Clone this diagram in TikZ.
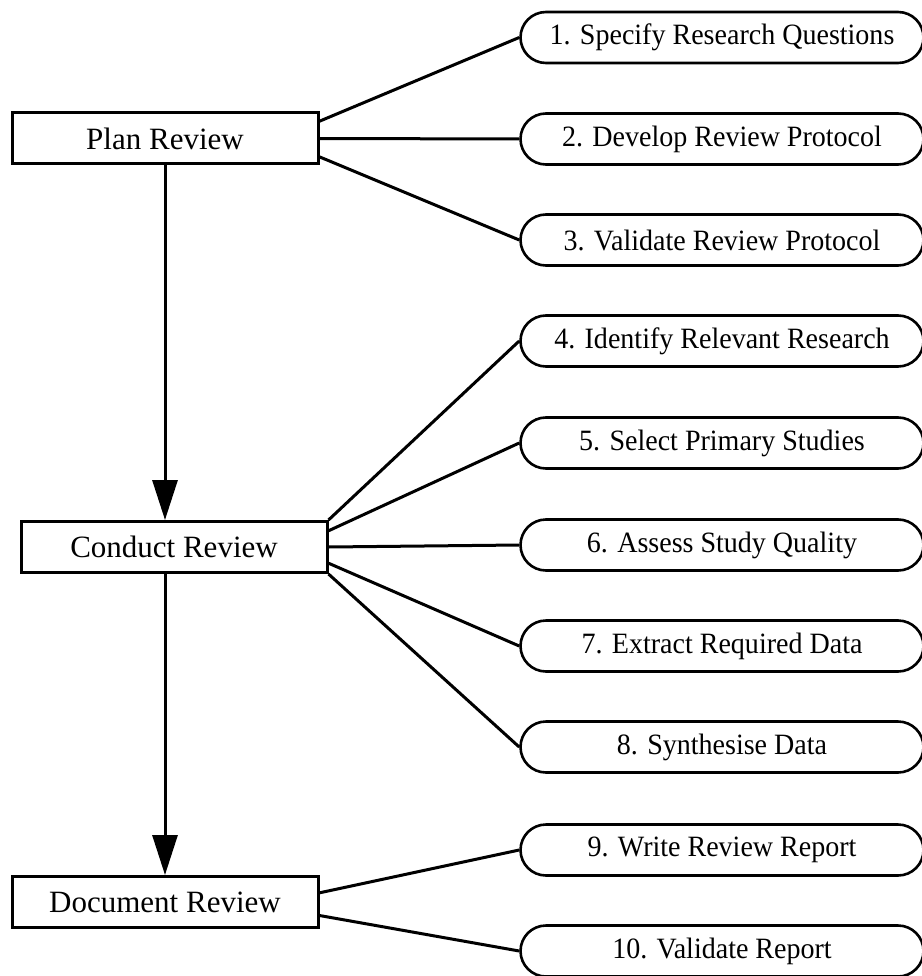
\documentclass[tikz,border=0pt]{standalone}
\usepackage{fontspec}
\setmainfont{Liberation Serif}
\newfontfamily\ovalfont[FakeStretch=0.95]{Liberation Serif}
\usetikzlibrary{shapes.misc,arrows.meta,calc}
\begin{document}
\begin{tikzpicture}[x=1pt,y=-1pt,
  boxnode/.style={draw,line width=3pt,minimum width=306pt,minimum height=51pt,inner sep=0pt,font=\fontsize{31}{36}\selectfont},
  oval/.style={draw,rounded rectangle,line width=2.6pt,minimum width=403pt,minimum height=51pt,inner sep=0pt,font=\ovalfont\fontsize{29.5}{34}\selectfont},
  link/.style={line width=3pt},
  arr/.style={line width=3pt,-{Triangle[length=40pt,width=25pt]}}]
\useasboundingbox (0,0) rectangle (921,976);
\node[boxnode] (plan) at (165,138.5) {Plan Review};
\node[boxnode] (conduct) at (174,547) {Conduct Review};
\node[boxnode] (doc) at (165,902) {Document Review};
\node[oval] (o1) at (722,37.5) {1. Specify Research Questions};
\node[oval] (o2) at (722,139) {2. Develop Review Protocol};
\node[oval] (o3) at (722,240) {3. Validate Review Protocol};
\node[oval] (o4) at (722,341) {4. Identify Relevant Research};
\node[oval] (o5) at (722,443) {5. Select Primary Studies};
\node[oval] (o6) at (722,545) {6. Assess Study Quality};
\node[oval] (o7) at (722,646) {7. Extract Required Data};
\node[oval] (o8) at (722,747) {8. Synthesise Data};
\node[oval] (o9) at (722,850) {9. Write Review Report};
\node[oval] (o10) at (722,951) {10. Validate Report};
\coordinate (p1) at ($(plan.north east)!0.18!(plan.south east)$);
\coordinate (p3) at ($(plan.north east)!0.84!(plan.south east)$);
\coordinate (c5) at ($(conduct.north east)!0.2!(conduct.south east)$);
\coordinate (c7) at ($(conduct.north east)!0.8!(conduct.south east)$);
\coordinate (d9) at ($(doc.north east)!0.33!(doc.south east)$);
\coordinate (d10) at ($(doc.north east)!0.75!(doc.south east)$);
\draw[link] (p1) -- (o1.west);
\draw[link] (plan.east) -- (o2.west);
\draw[link] (p3) -- (o3.west);
\draw[link] (conduct.north east) -- (o4.west);
\draw[link] (c5) -- (o5.west);
\draw[link] (conduct.east) -- (o6.west);
\draw[link] (c7) -- (o7.west);
\draw[link] (conduct.south east) -- (o8.west);
\draw[link] (d9) -- (o9.west);
\draw[link] (d10) -- (o10.west);
\draw[arr] (plan.south) -- (plan.south |- conduct.north);
\draw[arr] (plan.south |- conduct.south) -- (doc.north);
\end{tikzpicture}
\end{document}
